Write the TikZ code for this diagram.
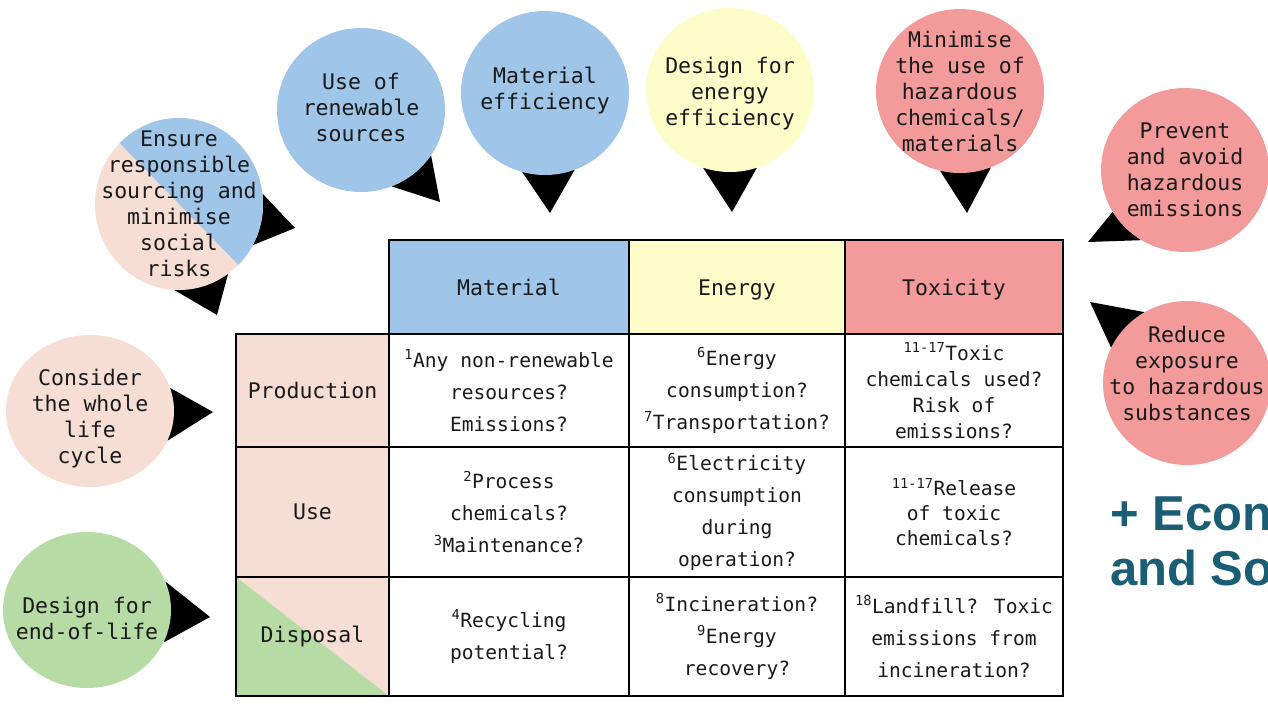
\documentclass[tikz,border=0pt]{standalone}
\usepackage{fontspec}
\setmainfont{DejaVu Sans Mono}
\newfontfamily\econfont{Liberation Sans}
\usepackage{tikz}
\usetikzlibrary{positioning,shapes.geometric,backgrounds}

\definecolor{matblue}{HTML}{9FC5E8}
\definecolor{enyellow}{HTML}{FDFDC9}
\definecolor{toxred}{HTML}{F39A9A}
\definecolor{lifepeach}{HTML}{F6DED5}
\definecolor{eolgreen}{HTML}{B7DBA4}
\definecolor{econteal}{HTML}{1A5E75}
\definecolor{inkgray}{HTML}{1A1A1A}

\begin{document}
\begin{tikzpicture}[x=1pt, y=-1pt,
  bubble/.style={ellipse, minimum width=168pt, minimum height=164pt, inner sep=0pt},
  bubtext/.style={align=center, inner sep=0pt, text=inkgray,
                  font=\fontsize{21.5}{26}\selectfont},
  pointer/.style={fill=black},
  cell/.style={draw, line width=2pt, inner sep=0pt, align=center, text=inkgray,
               font=\fontsize{19.6}{32}\selectfont},
  head/.style={cell, minimum height=94pt, text height=16pt, text depth=0pt,
               font=\fontsize{21.5}{26}\selectfont},
  rowlab/.style={cell, fill=lifepeach, minimum width=153pt, font=\fontsize{21.5}{26}\selectfont},
  econ/.style={anchor=base west, inner sep=0pt, text=econteal,
               font=\econfont\bfseries\fontsize{49}{55}\selectfont}
]
  \useasboundingbox (0,0) rectangle (1268,707);

  % Header row
  \node[head, fill=matblue, minimum width=240pt] (hmat) at (509,287) {Material};
  \node[head, fill=enyellow, minimum width=216pt] (hen) at (737,287) {Energy};
  \node[head, fill=toxred, minimum width=218pt] (htox) at (954,287) {Toxicity};

  % Life cycle stages
  \node[rowlab, minimum height=113pt] (rprod) at (312.5,390.5) {Production};
  \node[rowlab, minimum height=130pt] (ruse) at (312.5,512) {Use};
  \node[rowlab, minimum height=119pt,
        path picture={\fill[eolgreen] (path picture bounding box.north west)
          -- (path picture bounding box.south west)
          -- (path picture bounding box.south east) -- cycle;}]
        (rdisp) at (312.5,636.5) {Disposal};

  % Production row
  \node[cell, minimum width=240pt, minimum height=113pt] (pmat) at (509,390.5)
    {\textsuperscript{1}Any non-renewable\\resources?\\Emissions?};
  \node[cell, minimum width=216pt, minimum height=113pt] (pen) at (737,390.5)
    {\textsuperscript{6}Energy\\consumption?\\\textsuperscript{7}Transportation?};
  \node[cell, minimum width=218pt, minimum height=113pt, font=\fontsize{19.6}{26}\selectfont]
    (ptox) at (954,390.5)
    {\textsuperscript{11-17}Toxic\\chemicals used?\\Risk of\\emissions?};

  % Use row
  \node[cell, minimum width=240pt, minimum height=130pt] (umat) at (509,512)
    {\textsuperscript{2}Process\\chemicals?\\\textsuperscript{3}Maintenance?};
  \node[cell, minimum width=216pt, minimum height=130pt] (uen) at (737,512)
    {\textsuperscript{6}Electricity\\consumption\\during\\operation?};
  \node[cell, minimum width=218pt, minimum height=130pt, font=\fontsize{19.6}{25}\selectfont]
    (utox) at (954,512)
    {\textsuperscript{11-17}Release\\of toxic\\chemicals?};

  % Disposal row
  \node[cell, minimum width=240pt, minimum height=119pt] (dmat) at (509,636.5)
    {\textsuperscript{4}Recycling\\potential?};
  \node[cell, minimum width=216pt, minimum height=119pt] (den) at (737,636.5)
    {\textsuperscript{8}Incineration?\\\textsuperscript{9}Energy\\recovery?};
  \node[cell, minimum width=218pt, minimum height=119pt] (dtox) at (954,636.5)
    {\textsuperscript{18}Landfill? Toxic\\emissions from\\incineration?};

  % Principle bubbles
  \node[bubble, fill=lifepeach, minimum height=172pt,
        path picture={\fill[matblue] (path picture bounding box.north west)
          -- (path picture bounding box.north east)
          -- (path picture bounding box.south east) -- cycle;},
        label={[bubtext]center:Ensure\\responsible\\sourcing and\\minimise\\social\\risks}]
        (ensure) at (179,204) {};
  \node[bubble, fill=matblue,
        label={[bubtext, yshift=3pt]center:Use of\\renewable\\sources}] (renew) at (361,110) {};
  \node[bubble, fill=matblue,
        label={[bubtext, yshift=2pt]center:Material\\efficiency}] (mateff) at (545,93) {};
  \node[bubble, fill=enyellow,
        label={[bubtext, yshift=-4pt]center:Design for\\energy\\efficiency}] (eneff) at (730,90) {};
  \node[bubble, fill=toxred,
        label={[bubtext]center:Minimise\\the use of\\hazardous\\chemicals/\\materials}]
        (minhaz) at (960,91) {};
  \node[bubble, fill=toxred,
        label={[bubtext]center:Prevent\\and avoid\\hazardous\\emissions}] (prevent) at (1185,170) {};
  \node[bubble, fill=toxred,
        label={[bubtext, yshift=10pt]center:Reduce\\exposure\\to hazardous\\substances}]
        (reduce) at (1187,383) {};
  \node[bubble, fill=lifepeach, minimum height=152pt,
        label={[bubtext, yshift=-8pt]center:Consider\\the whole\\life\\cycle}] (consider) at (90,411) {};
  \node[bubble, fill=eolgreen, minimum height=156pt,
        label={[bubtext, yshift=-8pt]center:Design for\\end-of-life}] (eol) at (87,610) {};

  % Speech pointers behind the bubbles
  \begin{scope}[on background layer]
    \fill[pointer] (ensure.7) -- (295,228) -- (ensure.-29) -- cycle;
    \fill[pointer] (ensure.-93) -- (217,315) -- (ensure.-55) -- cycle;
    \fill[pointer] (renew.-68) -- (440,202) -- (renew.-33) -- cycle;
    \fill[pointer] (mateff.-106) -- (550,213) -- (mateff.-69) -- cycle;
    \fill[pointer] (eneff.-109) -- (732,212) -- (eneff.-71) -- cycle;
    \fill[pointer] (minhaz.-104) -- (967,213) -- (minhaz.-68) -- cycle;
    \fill[pointer] (prevent.-150) -- (1088,242) -- (prevent.-122) -- cycle;
    \fill[pointer] (reduce.121) -- (1090,302) -- (reduce.155) -- cycle;
    \fill[pointer] (consider.16) -- (213,412) -- (consider.-21) -- cycle;
    \fill[pointer] (eol.20) -- (210,617) -- (eol.-23) -- cycle;
  \end{scope}

  % Cut-off note at the right edge
  \node[econ] (econ) at (1110,530) {+ Econ};
  \node[econ] (so) at (1110,585) {and So};
\end{tikzpicture}
\end{document}
